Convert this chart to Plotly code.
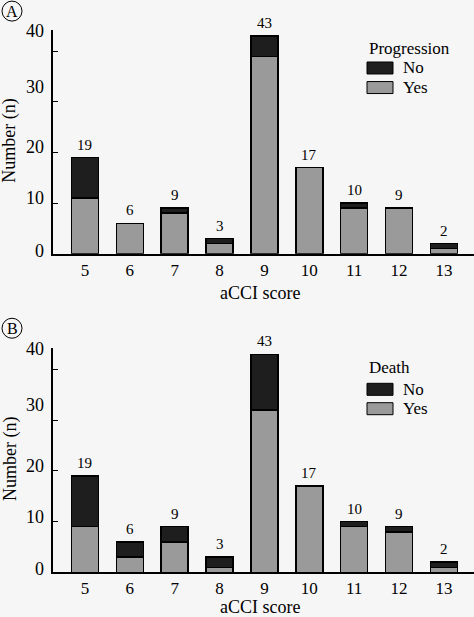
import plotly.graph_objects as go

# aCCI score categories
scores = [5, 6, 7, 8, 9, 10, 11, 12, 13]

# Panel A: progression
prog_no = [8, 0, 1, 1, 4, 0, 1, 0, 1]
prog_yes = [11, 6, 8, 2, 39, 17, 9, 9, 1]

# Panel B: death
death_no = [10, 3, 3, 2, 11, 0, 1, 1, 1]
death_yes = [9, 3, 6, 1, 32, 17, 9, 8, 1]

ytick_vals = [10, 20, 30, 40]
ytick_labels = ["0", "10", "20", "30", "40"]
# the printed labels sit a little off their ticks in the original
ytick_label_pos = [0.6, 11, 21, 33, 44]

DARK = "#1e1e1e"
GRAY = "#9a9a9a"
BG = "#f6f6f6"
FONT = "Liberation Serif"

fig = go.Figure()

panels = [
    ("x", "y", prog_no, prog_yes, "Progression", "A"),
    ("x2", "y2", death_no, death_yes, "Death", "B"),
]

for xa, ya, no, yes, title, tag in panels:
    fig.add_trace(go.Bar(x=scores, y=yes, xaxis=xa, yaxis=ya, width=0.6,
                         marker=dict(color=GRAY, line=dict(color="black", width=1.5)),
                         showlegend=False))
    fig.add_trace(go.Bar(x=scores, y=no, xaxis=xa, yaxis=ya, width=0.6,
                         marker=dict(color=DARK, line=dict(color="black", width=1.5)),
                         showlegend=False))
    # totals written above each bar
    for s, a, b in zip(scores, no, yes):
        fig.add_annotation(text=str(a + b), xref=xa, yref=ya, x=s, y=a + b,
                           xanchor="center", yanchor="bottom", yshift=3,
                           showarrow=False, font=dict(size=15))

axis_common = dict(showgrid=False, zeroline=False, linecolor="black", linewidth=1.5)

fig.update_layout(
    width=474, height=617,
    margin=dict(l=0, r=0, t=0, b=0),
    paper_bgcolor=BG, plot_bgcolor=BG,
    barmode="stack", showlegend=False,
    font=dict(family=FONT, size=17, color="black"),
    xaxis=dict(domain=[0.112, 1.0], range=[4.29, 13.67], anchor="y",
               tickvals=scores, ticks="", ticklabelstandoff=0, **axis_common),
    yaxis=dict(domain=[0.5888, 0.9514], range=[0, 44.2], anchor="x",
               tickvals=ytick_vals, ticks="inside", ticklen=5, tickcolor="black",
               showticklabels=False, **axis_common),
    xaxis2=dict(domain=[0.112, 1.0], range=[4.29, 13.67], anchor="y2",
                tickvals=scores, ticks="", ticklabelstandoff=0, **axis_common),
    yaxis2=dict(domain=[0.0724, 0.4355], range=[0, 44.2], anchor="x2",
                tickvals=ytick_vals, ticks="inside", ticklen=5, tickcolor="black",
                showticklabels=False, **axis_common),
)

# panel furniture: y tick labels, axis titles, legends, circled letters
legend_y = {"A": (0.9216, 0.8898, 0.8581), "B": (0.4041, 0.3690, 0.3376)}
xtitle_y = {"A": 0.5256, "B": 0.0165}
ytitle_y = {"A": 0.772, "B": 0.256}
tag_y = {"A": 0.982, "B": 0.468}


def note(text, x, y, xanchor="center", size=17, yref="paper", **kw):
    fig.add_annotation(text=text, xref="paper", yref=yref, x=x, y=y,
                       xanchor=xanchor, yanchor="middle", showarrow=False,
                       font=dict(size=size), **kw)


for xa, ya, no, yes, title, tag in panels:
    for lab, pos in zip(ytick_labels, ytick_label_pos):
        note(lab, 46 / 474, pos, xanchor="right", yref=ya, size=18)
    note("aCCI score", 0.549, xtitle_y[tag], size=18)
    note("Number (n)", 10 / 474, ytitle_y[tag], textangle=-90, size=18)
    ty, ny, yy = legend_y[tag]
    note(title, 367 / 474, ty, xanchor="left")
    for label, colour, ry in (("No", DARK, ny), ("Yes", GRAY, yy)):
        fig.add_shape(type="rect", xref="paper", yref="paper",
                      x0=367 / 474, x1=393 / 474, y0=ry - 6 / 617, y1=ry + 6 / 617,
                      fillcolor=colour, line=dict(color="black", width=1))
        note(label, 401 / 474, ry, xanchor="left")
    cy = tag_y[tag]
    fig.add_shape(type="circle", xref="paper", yref="paper",
                  x0=2 / 474, x1=22 / 474, y0=cy - 10 / 617, y1=cy + 10 / 617,
                  line=dict(color="black", width=1))
    note(tag, 12 / 474, cy, size=16)

fig.write_html("out.html", config={"displayModeBar": False},
               post_script="document.body.style.margin='0';")
